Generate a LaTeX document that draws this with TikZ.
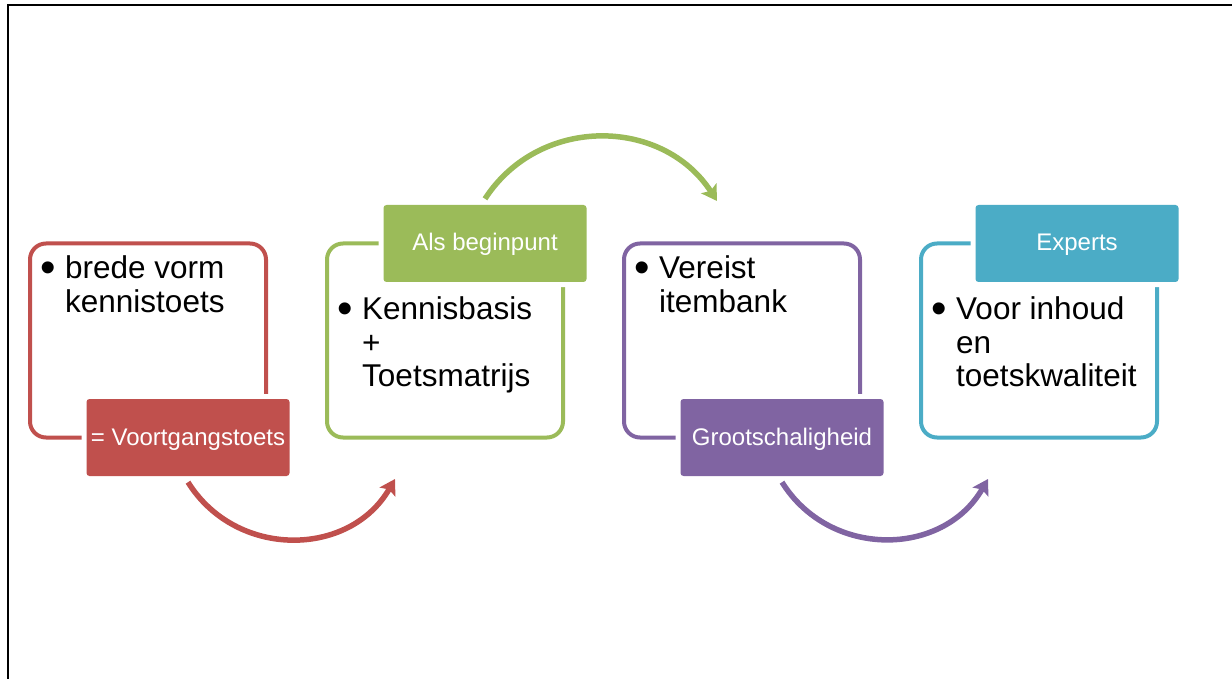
\documentclass[tikz,border=0pt]{standalone}
\usepackage{fontspec}
\setmainfont{Liberation Sans}
\usepackage{tikz}
\usetikzlibrary{positioning}
\usetikzlibrary{arrows.meta}
\definecolor{rood}{HTML}{C0504D}
\definecolor{groen}{HTML}{9BBB59}
\definecolor{paars}{HTML}{8064A2}
\definecolor{blauw}{HTML}{4BACC6}
\newcommand{\stip}{\makebox[25pt][l]{\raisebox{-4pt}{\scalebox{1.4}{\textbullet}}}}

\begin{document}
\begin{tikzpicture}[
        x=1pt, y=1pt,
        kader/.style={rectangle, draw=#1, line width=4pt, rounded corners=16pt, minimum width=236pt, minimum height=194pt, inner sep=0, outer sep=0},
        etiket/.style={rectangle, fill=#1, rounded corners=3pt, minimum width=203pt, minimum height=77pt, inner sep=0, text=white, text height=20pt, text depth=5pt, font=\fontsize{24}{28}\selectfont, preaction={draw=white, line width=10pt}},
        tekst/.style={anchor=base west, inner sep=0, font=\fontsize{31.5}{33.5}\selectfont},
        pijl/.style={draw=#1, line width=5.5pt, -{Stealth[length=15pt, width=18pt, inset=3pt]}}
    ]

        \useasboundingbox (0,0) rectangle (1232,-679);
        \draw[line width=2pt] (8,-679) -- (8,-5) -- (1232,-5);

        % kaders
        \node[kader=rood] (b1) at (148,-340.5) {};
        \node[kader=groen, right=61pt of b1] (b2) {};
        \node[kader=paars, right=61pt of b2] (b3) {};
        \node[kader=blauw, right=61pt of b3] (b4) {};

        % tekst in de kaders
        \node[tekst] (s1) at ([shift={(10pt,-35.5pt)}]b1.north west) {\stip\parbox[t]{200pt}{brede vorm\\kennistoets}};
        \node[tekst] (s2) at ([shift={(10pt,-76pt)}]b2.north west) {\stip\parbox[t]{200pt}{Kennisbasis\\+\\Toetsmatrijs}};
        \node[tekst] (s3) at ([shift={(10pt,-35.5pt)}]b3.north west) {\stip\parbox[t]{200pt}{Vereist\\itembank}};
        \node[tekst] (s4) at ([shift={(10pt,-76pt)}]b4.north west) {\stip\parbox[t]{200pt}{Voor inhoud\\en\\toetskwaliteit}};

        % etiketten
        \node[etiket=rood] (t1) at ([xshift=40pt]b1.south) {= Voortgangstoets};
        \node[etiket=groen] (t2) at ([xshift=40pt]b2.north) {Als beginpunt};
        \node[etiket=paars] (t3) at ([xshift=40pt]b3.south) {Grootschaligheid};
        \node[etiket=blauw] (t4) at ([xshift=38pt]b4.north) {Experts};

        % pijlen
        \coordinate (e1) at (395,-479);
        \coordinate (e2) at (717,-201);
        \coordinate (e3) at (988,-479);
        \draw[pijl=rood] ([yshift=-6pt]t1.south) to[out=-58, in=-120, looseness=1.12] (e1);
        \draw[pijl=groen] ([yshift=6pt]t2.north) to[out=57, in=123, looseness=1.1] (e2);
        \draw[pijl=paars] ([yshift=-6pt]t3.south) to[out=-58, in=-120, looseness=1.12] (e3);

    \end{tikzpicture}
\end{document}
